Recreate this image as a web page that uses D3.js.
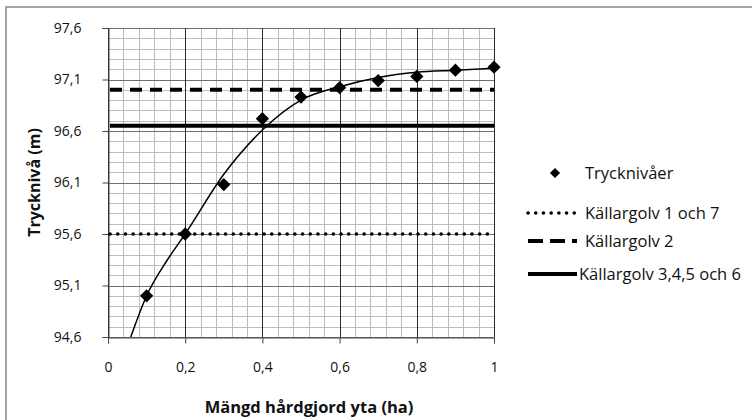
<!DOCTYPE html>
<html>
<head>
<meta charset="utf-8">
<script src="https://cdn.jsdelivr.net/npm/d3@7"></script>
<style>
  body { margin: 0; background: #fff; }
  text { font-family: 'Open Sans', sans-serif; }
</style>
</head>
<body>
<script>
// measured points (x = ha, y = m)
var areas = [0.1, 0.2, 0.3, 0.4, 0.5, 0.6, 0.7, 0.8, 0.9, 1.0];
var levels = [95.0, 95.6, 96.08, 96.72, 96.93, 97.02, 97.09, 97.13, 97.19, 97.22];

// trend line
var trendX = [0.059, 0.1, 0.154, 0.2, 0.3, 0.4, 0.5, 0.6, 0.7, 0.8, 0.9, 1.0];
var trendY = [94.6, 95.0, 95.35, 95.6, 96.18, 96.61, 96.9, 97.03, 97.12, 97.17, 97.19, 97.21];

// basement floors
var floorNames = ['Källargolv 1 och 7', 'Källargolv 2', 'Källargolv 3,4,5 och 6'];
var floorLevels = [95.6, 97.0, 96.65];

var xTicks = [0, 0.2, 0.4, 0.6, 0.8, 1];
var yTicks = [94.6, 95.1, 95.6, 96.1, 96.6, 97.1, 97.6];

var screen = { width: 752, height: 420 };
var plot = { left: 108, right: 494, top: 28, bottom: 337 };

var svg = d3.select('body')
            .append('svg')
            .attr('width', screen.width)
            .attr('height', screen.height);

svg.append('rect')
   .attr('x', 6).attr('y', 7)
   .attr('width', 900).attr('height', 600)
   .attr('fill', 'white')
   .attr('stroke', '#868686')
   .attr('stroke-width', 1.5);

var xScale = d3.scaleLinear().domain([0, 1]).range([plot.left, plot.right]);
var yScale = d3.scaleLinear().domain([94.6, 97.6]).range([plot.bottom, plot.top]);

var comma = d3.formatLocale({ decimal: ',', thousands: ' ', grouping: [3], currency: ['', ''] });
var fmtX = function(d){ return d === 0 || d === 1 ? String(d) : comma.format('.1f')(d); };
var fmtY = comma.format('.1f');

// minor grid
var grid = svg.append('g').classed('grid', true);
grid.selectAll('line.vminor')
    .data(d3.range(0, 1.0001, 0.04))
    .enter().append('line')
    .attr('x1', function(d){ return Math.round(xScale(d)) + 0.5; })
    .attr('x2', function(d){ return Math.round(xScale(d)) + 0.5; })
    .attr('y1', plot.top).attr('y2', plot.bottom)
    .attr('stroke', '#bdbdbd');
grid.selectAll('line.hminor')
    .data(d3.range(94.6, 97.61, 0.1))
    .enter().append('line')
    .attr('y1', function(d){ return Math.round(yScale(d)) + 0.5; })
    .attr('y2', function(d){ return Math.round(yScale(d)) + 0.5; })
    .attr('x1', plot.left).attr('x2', plot.right)
    .attr('stroke', '#bdbdbd');
// major grid
grid.selectAll('line.hmajor')
    .data(yTicks)
    .enter().append('line')
    .attr('y1', function(d){ return Math.round(yScale(d)) + 0.5; })
    .attr('y2', function(d){ return Math.round(yScale(d)) + 0.5; })
    .attr('x1', plot.left).attr('x2', plot.right)
    .attr('stroke', '#707070');
grid.selectAll('line.vmajor')
    .data(xTicks)
    .enter().append('line')
    .attr('x1', function(d){ return Math.round(xScale(d)) + 0.5; })
    .attr('x2', function(d){ return Math.round(xScale(d)) + 0.5; })
    .attr('y1', plot.top).attr('y2', plot.bottom)
    .attr('stroke', '#2a2a2a');

// axes
var xAxis = d3.axisBottom(xScale).tickValues(xTicks).tickFormat(fmtX)
              .tickSize(6).tickPadding(19);
var yAxis = d3.axisLeft(yScale).tickValues(yTicks).tickFormat(fmtY)
              .tickSize(6).tickPadding(21);

svg.append('g')
   .attr('transform', 'translate(0,' + (plot.bottom + 0.5) + ')')
   .call(xAxis)
   .call(function(g){
     g.select('.domain').attr('stroke', '#444');
     g.selectAll('.tick line').attr('stroke', '#444');
     g.selectAll('text').attr('font-size', 14).attr('fill', '#111');
   });
svg.append('g')
   .attr('transform', 'translate(' + (plot.left + 0.5) + ',0)')
   .call(yAxis)
   .call(function(g){
     g.select('.domain').attr('stroke', '#444');
     g.selectAll('.tick line').attr('stroke', '#444');
     g.selectAll('text').attr('font-size', 14).attr('fill', '#111');
   });

// floor lines
var floorStyles = [
  { width: 3.5, dash: '0.1 7.6', cap: 'round' },
  { width: 4, dash: '12 8', cap: 'butt' },
  { width: 4, dash: null, cap: 'butt' }
];
svg.selectAll('line.floor')
   .data(floorLevels)
   .enter().append('line')
   .classed('floor', true)
   .attr('x1', xScale(0) + 2).attr('x2', xScale(1))
   .attr('y1', function(d){ return yScale(d); })
   .attr('y2', function(d){ return yScale(d); })
   .attr('stroke', '#000')
   .attr('stroke-width', function(d, i){ return floorStyles[i].width; })
   .attr('stroke-dasharray', function(d, i){ return floorStyles[i].dash; })
   .attr('stroke-linecap', function(d, i){ return floorStyles[i].cap; });

// trend line
var trend = trendX.map(function(x, i){ return [x, trendY[i]]; });
svg.append('path')
   .datum(trend)
   .attr('fill', 'none')
   .attr('stroke', '#000')
   .attr('stroke-width', 1.5)
   .attr('d', d3.line()
                .x(function(d){ return xScale(d[0]); })
                .y(function(d){ return yScale(d[1]); })
                .curve(d3.curveMonotoneX));

// points
var diamond = d3.symbol().type(d3.symbolSquare).size(88);
svg.selectAll('path.pt')
   .data(areas)
   .enter().append('path')
   .classed('pt', true)
   .attr('d', diamond)
   .attr('fill', '#000')
   .attr('transform', function(d, i){
     return 'translate(' + xScale(d) + ',' + yScale(levels[i]) + ') rotate(45)';
   });

// axis titles
svg.append('text')
   .attr('x', 309).attr('y', 413)
   .attr('text-anchor', 'middle')
   .attr('font-size', 16.5).attr('font-weight', 'bold')
   .attr('fill', '#111')
   .text('Mängd hårdgjord yta (ha)');
svg.append('text')
   .attr('transform', 'translate(40,' + ((plot.top + plot.bottom) / 2) + ') rotate(-90)')
   .attr('text-anchor', 'middle')
   .attr('font-size', 16).attr('font-weight', 'bold')
   .attr('fill', '#111')
   .text('Trycknivå (m)');

// legend
var legend = svg.append('g').classed('legend', true);
legend.append('path')
      .attr('d', d3.symbol().type(d3.symbolSquare).size(52))
      .attr('transform', 'translate(555,173) rotate(45)')
      .attr('fill', '#000');
legend.append('text')
      .attr('x', 585).attr('y', 173).attr('dy', '0.35em')
      .attr('font-size', 16.5).attr('fill', '#111')
      .text('Trycknivåer');
var legendY = [213, 241, 274];
var legendTextX = [585, 585, 579];
floorNames.forEach(function(name, i){
  legend.append('line')
        .attr('x1', 528).attr('x2', 577)
        .attr('y1', legendY[i]).attr('y2', legendY[i])
        .attr('stroke', '#000')
        .attr('stroke-width', floorStyles[i].width)
        .attr('stroke-dasharray', i === 1 ? '15 7' : floorStyles[i].dash)
        .attr('stroke-linecap', floorStyles[i].cap);
  legend.append('text')
        .attr('x', legendTextX[i]).attr('y', legendY[i]).attr('dy', '0.35em')
        .attr('font-size', 16.5).attr('fill', '#111')
        .text(name);
});
</script>
</body>
</html>
